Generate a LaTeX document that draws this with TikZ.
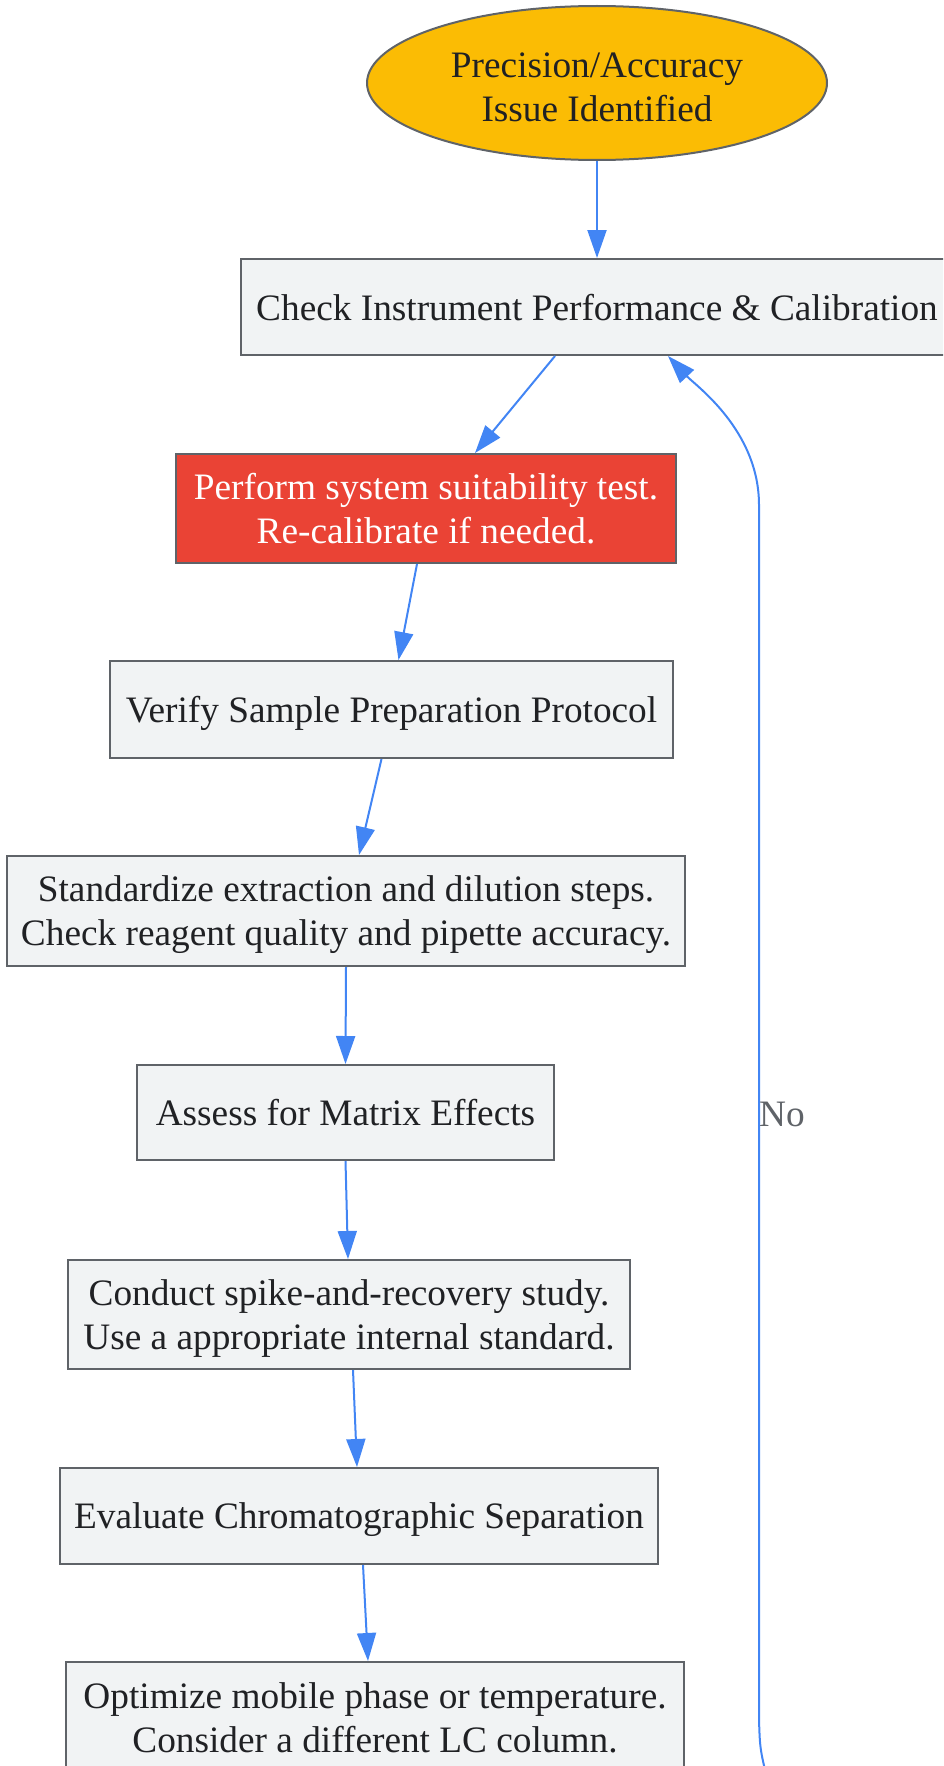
\documentclass[tikz,border=0pt]{standalone}
\usepackage{fontspec}
\setmainfont{Liberation Serif}
\usetikzlibrary{arrows.meta,shapes.geometric}
\definecolor{ybg}{HTML}{FBBC04}
\definecolor{rbg}{HTML}{EA4335}
\definecolor{gbg}{HTML}{F1F3F4}
\definecolor{bord}{HTML}{5F6368}
\definecolor{arr}{HTML}{4285F4}
\definecolor{txt}{HTML}{202124}
\begin{document}
\begin{tikzpicture}[x=1pt,y=-1pt,
 base/.style={draw=bord, line width=2pt, inner sep=0pt, align=center, text depth=0pt, font=\fontsize{37.3}{44}\selectfont, text=txt},
 stepbox/.style={base, rectangle, fill=gbg},
 redbox/.style={base, rectangle, fill=rbg, text=white},
 startnode/.style={base, ellipse, fill=ybg},
 flow/.style={draw=arr, line width=2pt, -{Triangle[length=28pt,width=19pt]}},
 lbl/.style={font=\fontsize{37.3}{44}\selectfont, text=bord, inner sep=0pt, anchor=west}]
\useasboundingbox (0,0) rectangle (943,1766);
\clip (0,0) rectangle (943,1766);

\node[startnode, minimum width=460pt, minimum height=154pt] (start) at (597,83) {\rule{0pt}{33pt}Precision/Accuracy\\Issue Identified};
\node[stepbox, minimum width=712pt, minimum height=96pt] (check) at (597,307) {Check Instrument Performance \& Calibration};
\node[redbox, minimum width=500pt, minimum height=109pt] (sst) at (426,508.5) {Perform system suitability test.\\Re-calibrate if needed.};
\node[stepbox, minimum width=563pt, minimum height=97pt] (verify) at (391.5,709.5) {Verify Sample Preparation Protocol};
\node[stepbox, minimum width=678pt, minimum height=110pt] (std) at (346,911) {Standardize extraction and dilution steps.\\Check reagent quality and pipette accuracy.};
\node[stepbox, minimum width=417pt, minimum height=95pt] (assess) at (345.5,1112.5) {Assess for Matrix Effects};
\node[stepbox, minimum width=562pt, minimum height=109pt] (conduct) at (349,1314.5) {Conduct spike-and-recovery study.\\Use a appropriate internal standard.};
\node[stepbox, minimum width=598pt, minimum height=96pt] (eval) at (359,1516) {Evaluate Chromatographic Separation};
\node[stepbox, minimum width=618pt, minimum height=112pt] (opt) at (375,1718) {Optimize mobile phase or temperature.\\Consider a different LC column.};

\coordinate (loopstart) at (770,1790);

\draw[flow] (start.south) -- (check.north);
\draw[flow] ([xshift=-42pt]check.south) -- ([xshift=49pt]sst.north);
\draw[flow] ([xshift=-9pt]sst.south) -- ([xshift=7pt]verify.north);
\draw[flow] ([xshift=-10pt]verify.south) -- ([xshift=13pt]std.north);
\draw[flow] (std.south) -- (assess.north);
\draw[flow] (assess.south) -- ([xshift=-1pt]conduct.north);
\draw[flow] ([xshift=4pt]conduct.south) -- ([xshift=-2pt]eval.north);
\draw[flow] ([xshift=4pt]eval.south) -- ([xshift=-7pt]opt.north);
\draw[flow] (loopstart) .. controls (760,1750) .. (759,1720) -- (759,505) .. controls (759,430) and (695,385) .. ([xshift=71pt]check.south);

\node[lbl] (no) at (759,1114) {No};
\end{tikzpicture}
\end{document}
